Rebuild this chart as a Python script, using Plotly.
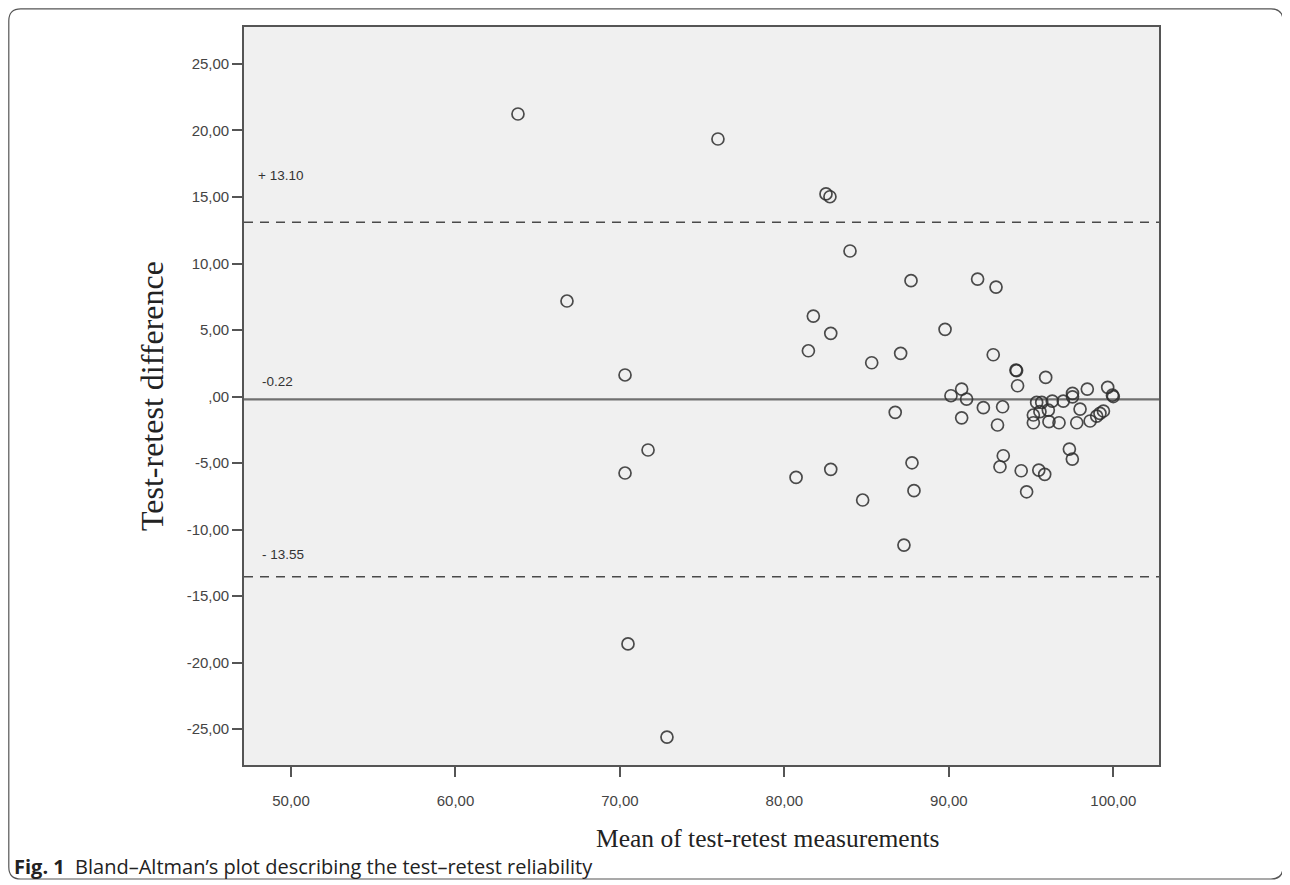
import plotly.graph_objects as go

# Mean of test-retest measurements
mean_vals = [63.8, 75.96, 82.53, 82.77, 83.99, 66.78, 87.70, 91.75, 92.87, 81.76,
             82.82, 89.77, 81.46, 87.07, 85.31, 92.70, 94.08, 94.12, 95.89, 70.31,
             94.18, 90.78, 90.13, 91.08, 98.42, 99.66, 99.95, 100.0, 97.52, 97.52,
             96.96, 96.29, 95.65, 95.34, 96.05, 95.54, 95.14, 97.98, 99.40, 99.19,
             98.99, 86.74, 92.10, 93.27, 90.78, 92.96, 95.14, 96.09, 96.70, 97.78,
             98.59, 97.33, 97.51, 87.76, 93.31, 93.11, 94.40, 95.47, 95.83, 94.73,
             87.88, 84.76, 80.71, 82.82, 87.27, 70.31, 71.71, 70.49, 72.86]
# Test-retest difference
diff_vals = [21.24, 19.36, 15.23, 15.02, 10.94, 7.18, 8.71, 8.83, 8.23, 6.05,
             4.75, 5.05, 3.44, 3.25, 2.54, 3.14, 1.99, 1.95, 1.44, 1.62,
             0.81, 0.56, 0.06, -0.19, 0.56, 0.69, 0.10, 0.00, 0.24, -0.02,
             -0.34, -0.34, -0.44, -0.44, -1.02, -1.14, -1.39, -0.94, -1.09, -1.26,
             -1.47, -1.19, -0.84, -0.77, -1.60, -2.14, -1.97, -1.89, -1.97, -1.97,
             -1.84, -3.95, -4.70, -4.98, -4.45, -5.28, -5.58, -5.53, -5.85, -7.16,
             -7.08, -7.78, -6.08, -5.47, -11.17, -5.75, -4.02, -18.60, -25.60]

mean_diff = -0.22
upper_loa = 13.10
lower_loa = -13.55

x_ticks = [50, 60, 70, 80, 90, 100]
x_ticktext = ["50,00", "60,00", "70,00", "80,00", "90,00", "100,00"]
y_ticks = [25, 20, 15, 10, 5, 0, -5, -10, -15, -20, -25]
y_ticktext = ["25,00", "20,00", "15,00", "10,00", "5,00", ",00", "-5,00",
              "-10,00", "-15,00", "-20,00", "-25,00"]

X_RANGE = [47.14, 102.78]
Y_RANGE = [-27.7, 27.78]

# The page body adds an 8px offset; layout is expressed in reference pixels.
OFFSET = 8
PL, PT, PW, PH = 244, 27, 915, 738   # plot box in reference pixels
FIG_W, FIG_H = 1290 - OFFSET, 885 - OFFSET


def px(xp):
    return (xp - PL) / PW


def py(yp):
    return (PT + PH - yp) / PH


fig = go.Figure()

# Reference lines
for val, dash, width, color in [(upper_loa, "9px,7px", 1.4, "#4a4a4a"),
                                (lower_loa, "9px,7px", 1.4, "#4a4a4a"),
                                (mean_diff, "solid", 2.2, "#707070")]:
    fig.add_trace(go.Scatter(x=X_RANGE, y=[val, val], mode="lines",
                             line=dict(color=color, width=width, dash=dash),
                             hoverinfo="skip", showlegend=False))

fig.add_trace(go.Scatter(
    x=mean_vals, y=diff_vals, mode="markers",
    marker=dict(symbol="circle-open", size=12, color="rgba(45,45,45,0.85)",
                line=dict(width=1.7, color="rgba(45,45,45,0.85)")),
    showlegend=False))

label_font = dict(family="Liberation Sans, Arial, sans-serif", size=13.5, color="#333")
fig.add_annotation(x=X_RANGE[0], y=upper_loa, text="+ 13.10", showarrow=False,
                   xanchor="left", yanchor="middle", xshift=12, yshift=47, font=label_font)
fig.add_annotation(x=X_RANGE[0], y=mean_diff, text="-0.22", showarrow=False,
                   xanchor="left", yanchor="middle", xshift=16, yshift=18, font=label_font)
fig.add_annotation(x=X_RANGE[0], y=lower_loa, text="- 13.55", showarrow=False,
                   xanchor="left", yanchor="middle", xshift=16, yshift=22, font=label_font)

# Axis titles
fig.add_annotation(xref="paper", yref="paper", x=px(767), y=py(838),
                   text="Mean of test-retest measurements", showarrow=False,
                   xanchor="center", yanchor="middle",
                   font=dict(family="Liberation Serif, Times New Roman, serif", size=25.5, color="#222"))
fig.add_annotation(xref="paper", yref="paper", x=px(152), y=py(396),
                   text="Test-retest difference", showarrow=False, textangle=-90,
                   xanchor="center", yanchor="middle",
                   font=dict(family="Liberation Serif, Times New Roman, serif", size=32, color="#222"))

# Caption
fig.add_annotation(xref="paper", yref="paper", x=px(12), y=py(866),
                   text="<b>Fig. 1</b>  Bland–Altman’s plot describing the test–retest reliability",
                   showarrow=False, xanchor="left", yanchor="middle",
                   font=dict(family="Open Sans, Noto Sans, sans-serif", size=20, color="#222"))

# Rounded outer border
L, T, R, B, r = 8.8, 8.8, 1283, 879, 12
path = (f"M {px(L + r)},{py(T)} L {px(R - r)},{py(T)} Q {px(R)},{py(T)} {px(R)},{py(T + r)} "
        f"L {px(R)},{py(B - r)} Q {px(R)},{py(B)} {px(R - r)},{py(B)} "
        f"L {px(L + r)},{py(B)} Q {px(L)},{py(B)} {px(L)},{py(B - r)} "
        f"L {px(L)},{py(T + r)} Q {px(L)},{py(T)} {px(L + r)},{py(T)} Z")
fig.add_shape(type="path", path=path, xref="paper", yref="paper",
              line=dict(color="#555", width=1.2), layer="below")

axis_common = dict(showgrid=False, zeroline=False, showline=True, mirror=True,
                   linecolor="#555", linewidth=1.6, ticks="outside", ticklen=10,
                   tickwidth=1.6, tickcolor="#555",
                   tickfont=dict(family="Liberation Sans, Arial, sans-serif", size=15, color="#444"))

fig.update_xaxes(range=X_RANGE, tickvals=x_ticks, ticktext=x_ticktext,
                 ticklabelstandoff=11, **axis_common)
fig.update_yaxes(range=Y_RANGE, tickvals=y_ticks, ticktext=y_ticktext,
                 ticklabelstandoff=0, **axis_common)

fig.update_layout(width=FIG_W, height=FIG_H,
                  margin=dict(l=PL - OFFSET, r=FIG_W - (PL - OFFSET) - PW,
                              t=PT - OFFSET, b=FIG_H - (PT - OFFSET) - PH),
                  paper_bgcolor="white", plot_bgcolor="#f0f0f0")

fig.write_html("out.html")
